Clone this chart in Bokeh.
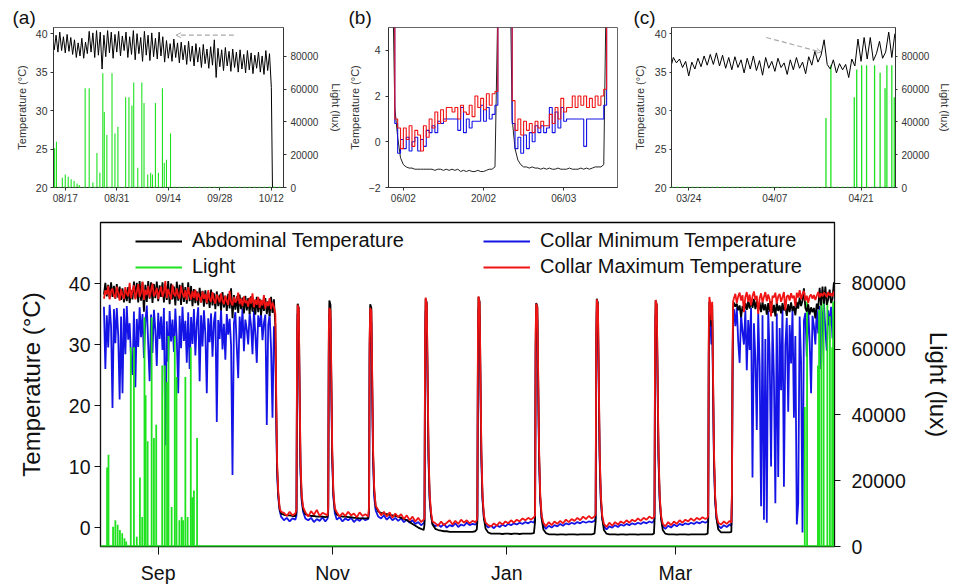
import numpy as np
import pandas as pd
from bokeh.plotting import figure
from bokeh.models import (Range1d, LinearAxis, FixedTicker, DatetimeTickFormatter,
                          Span, Arrow, OpenHead, Legend, LegendItem, Title)
from bokeh.layouts import column, row
from bokeh.embed import file_html
from bokeh.resources import INLINE

# ======================= DATA =======================
BASE_DATE = "2018-08-01"          # day 0 of all day counts below

# --- pre-hibernation, half-day samples starting at day 12.0 ---
PRE_START, PRE_STEP = 12.0, 0.5
ABD_PRE = [
    38.2, 40.1, 37.9, 39.8, 37.6, 40.2, 37.8, 39.6, 37.5, 39.9,
    37.7, 39.5, 37.3, 39.2, 36.9, 38.8, 37.1, 39.4, 36.8, 38.9,
    37.4, 40.3, 37.6, 40.1, 36.9, 40.4, 37.2, 40.2, 35.4, 39.8,
    37.0, 40.4, 37.5, 40.2, 36.8, 39.9, 37.6, 40.3, 37.1, 39.7,
    37.8, 40.2, 36.9, 39.6, 37.3, 40.4, 36.6, 40.0, 37.4, 39.5,
    36.4, 40.3, 37.2, 39.8, 36.5, 40.1, 37.0, 39.4, 36.7, 40.2,
    37.1, 39.6, 36.3, 39.1, 36.8, 38.7, 36.4, 39.3, 36.9, 38.8,
    36.2, 38.9, 36.6, 38.5, 36.0, 39.0, 36.4, 38.4, 35.8, 38.7,
    36.3, 38.2, 35.6, 38.6, 36.1, 38.0, 35.5, 38.3, 35.9, 39.2,
    34.3, 38.1, 35.7, 37.9, 35.2, 38.2, 35.8, 37.7, 35.1, 38.0,
    35.6, 37.6, 35.0, 37.9, 35.4, 37.3, 34.9, 37.8, 35.3, 37.5,
    34.8, 37.2, 35.5, 37.6, 35.0, 37.1, 34.7, 37.8, 35.2, 37.4]
CMAX_PRE = [
    37.5, 38.9, 38.2, 39.6, 37.4, 38.8, 39.2, 38.0, 37.6, 39.5,
    38.4, 37.2, 39.1, 38.0, 37.5, 39.4, 38.3, 37.9, 40.1, 37.6,
    38.8, 39.7, 37.4, 38.6, 39.9, 37.8, 38.5, 40.3, 37.3, 39.0,
    38.1, 39.6, 37.7, 38.9, 40.0, 37.9, 38.4, 39.3, 37.5, 38.7,
    39.5, 37.8, 38.6, 40.4, 37.6, 39.1, 38.2, 37.4, 39.8, 38.3,
    37.9, 39.2, 38.0, 37.5, 39.6, 38.4, 37.7, 38.9, 37.3, 39.4,
    38.1, 37.4, 38.8, 37.6, 39.0, 37.2, 38.5, 37.8, 36.9, 38.7,
    37.5, 38.3, 36.8, 38.9, 37.4, 37.0, 38.6, 37.3, 36.7, 38.2,
    37.6, 36.9, 38.4, 37.2, 36.6, 38.0, 37.1, 36.5, 38.8, 37.0,
    36.4, 37.8, 36.9, 37.3, 38.5, 36.6, 37.5, 36.3, 37.9, 36.8,
    37.2, 36.2, 37.7, 36.7, 38.4, 36.1, 37.4, 36.5, 37.8, 36.0,
    37.3, 36.4, 38.1, 35.9, 37.0, 36.3, 37.6, 35.8, 36.9, 36.2]
CMIN_PRE = [
    36.2, 26.0, 34.8, 29.5, 36.5, 33.0, 19.6, 35.8, 30.2, 36.0,
    31.5, 21.0, 34.6, 22.0, 35.9, 28.4, 36.3, 30.8, 33.5, 27.6,
    25.0, 35.4, 23.0, 34.2, 29.6, 36.1, 31.2, 35.0, 27.8, 33.7,
    36.4, 30.0, 24.0, 34.9, 28.6, 35.7, 32.4, 26.5, 35.2, 30.9,
    34.6, 29.1, 36.0, 13.5, 33.8, 27.2, 35.5, 30.5, 34.1, 28.8,
    35.9, 31.0, 22.0, 34.7, 29.4, 36.2, 30.6, 33.9, 27.0, 35.3,
    26.0, 34.5, 30.1, 35.8, 28.2, 33.6, 36.1, 24.0, 34.8, 29.7,
    35.6, 31.8, 22.0, 34.3, 30.4, 35.1, 28.0, 33.7, 35.4, 17.3,
    34.0, 30.9, 35.7, 29.2, 33.4, 27.5, 35.0, 31.6, 34.2, 29.9,
    8.6, 33.5, 35.3, 29.6, 24.5, 34.6, 31.0, 35.9, 28.9, 34.1,
    32.5, 30.0, 35.2, 33.1, 28.4, 35.6, 31.7, 27.0, 34.8, 32.9,
    35.1, 30.7, 33.6, 34.9, 16.8, 33.2, 35.0, 29.3, 18.0, 33.0]

# --- hibernation (torpor bouts and arousals), day / value ---
HIB_T = [
    72.0, 72.3, 72.6, 73.0, 73.5, 74.0, 75.0, 76.0, 77.0, 78.0,
    79.0, 79.4, 79.6, 79.8, 80.2, 80.5, 80.8, 81.2, 81.7, 82.5,
    83.5, 84.5, 85.5, 86.5, 87.5, 88.5, 89.5, 90.3, 90.5, 90.7,
    90.9, 91.3, 91.6, 91.9, 92.3, 92.8, 93.5, 94.5, 95.5, 96.5,
    97.5, 98.5, 99.5, 100.5, 101.5, 102.5, 103.5, 104.5, 104.8, 105.0,
    105.2, 105.6, 105.9, 106.2, 106.6, 107.1, 108.0, 109.0, 110.0, 111.0,
    112.0, 113.0, 114.0, 115.0, 116.0, 117.0, 118.0, 119.0, 120.0, 121.0,
    122.0, 123.0, 123.9, 124.2, 124.4, 124.6, 125.0, 125.3, 125.6, 126.0,
    126.5, 127.0, 128.0, 129.0, 130.0, 131.0, 132.0, 133.0, 134.0, 135.0,
    136.0, 137.0, 138.0, 139.0, 140.0, 141.0, 142.0, 142.5, 142.7, 142.9,
    143.1, 143.5, 143.8, 144.1, 144.5, 145.0, 145.6, 146.5, 147.5, 148.5,
    149.5, 150.5, 151.5, 152.5, 153.5, 154.5, 155.5, 156.5, 157.5, 158.5,
    159.5, 160.5, 161.5, 162.5, 162.9, 163.1, 163.3, 163.7, 164.0, 164.3,
    164.7, 165.2, 165.8, 166.7, 167.7, 168.7, 169.7, 170.7, 171.7, 172.7,
    173.7, 174.7, 175.7, 176.7, 177.7, 178.7, 179.7, 180.7, 181.7, 182.7,
    183.7, 184.1, 184.3, 184.5, 184.9, 185.2, 185.5, 185.9, 186.4, 187.0,
    187.9, 188.9, 189.9, 190.9, 191.9, 192.9, 193.9, 194.9, 195.9, 196.9,
    197.9, 198.9, 199.9, 200.9, 201.9, 202.9, 203.9, 204.5, 204.7, 204.9,
    205.1, 205.5, 205.8, 206.1, 206.5, 207.0, 207.6, 208.5, 209.5, 210.5,
    211.5, 212.5, 213.5, 214.5, 215.5, 216.5, 217.5, 218.5, 219.5, 220.5,
    221.5, 222.5, 223.3, 223.5, 223.7, 223.9, 224.3, 224.6, 224.9, 225.2,
    225.5, 225.9, 226.4, 227.0, 228.0, 229.0, 230.0, 231.0, 231.6, 231.8,
    232.0, 232.2]
HIB_ABD = [
    33.0, 20.0, 10.0, 5.5, 3.0, 2.3, 2.1, 2.0, 2.0, 1.9,
    1.9, 2.5, 30.0, 36.7, 36.0, 22.0, 10.0, 5.0, 3.0, 2.2,
    2.0, 1.9, 1.9, 1.8, 1.8, 1.8, 1.7, 1.8, 3.0, 30.0,
    37.2, 36.5, 24.0, 12.0, 5.5, 3.0, 2.1, 1.9, 1.8, 1.8,
    1.7, 1.7, 1.6, 1.6, 1.5, 1.5, 1.5, 1.5, 3.0, 30.0,
    36.6, 36.0, 24.0, 12.0, 6.0, 3.5, 2.6, 2.4, 2.3, 2.2,
    2.1, 2.0, 1.9, 1.8, 1.6, 1.4, 1.2, 0.9, 0.6, 0.3,
    0.0, -0.2, -0.4, 0.5, 30.0, 37.5, 36.8, 24.0, 12.0, 5.0,
    2.0, 0.5, -0.2, -0.4, -0.5, -0.6, -0.6, -0.7, -0.7, -0.7,
    -0.7, -0.7, -0.7, -0.7, -0.7, -0.7, -0.6, -0.3, 1.0, 30.0,
    37.8, 37.0, 24.0, 12.0, 5.0, 1.5, -0.2, -0.8, -1.0, -1.0,
    -1.0, -1.0, -1.05, -1.0, -1.0, -1.05, -1.0, -1.0, -1.05, -1.0,
    -1.0, -1.0, -1.0, -0.9, 1.0, 30.0, 36.8, 36.2, 24.0, 12.0,
    5.0, 1.5, -0.3, -0.9, -1.1, -1.1, -1.1, -1.15, -1.1, -1.1,
    -1.15, -1.1, -1.1, -1.1, -1.15, -1.1, -1.1, -1.1, -1.1, -1.1,
    -1.0, 1.0, 30.0, 37.5, 36.8, 24.0, 12.0, 5.0, 1.5, -0.4,
    -1.0, -1.1, -1.1, -1.1, -1.15, -1.1, -1.1, -1.15, -1.1, -1.1,
    -1.1, -1.15, -1.1, -1.1, -1.1, -1.1, -1.1, -1.0, 1.0, 30.0,
    37.2, 36.5, 24.0, 12.0, 5.0, 1.5, -0.4, -1.0, -1.1, -1.1,
    -1.1, -1.15, -1.1, -1.1, -1.1, -1.15, -1.1, -1.1, -1.1, -1.1,
    -1.1, -1.1, -1.0, 1.0, 30.0, 37.0, 36.0, 33.0, 36.5, 24.0,
    12.0, 5.0, 1.5, -0.3, -0.8, -0.8, -0.8, -0.8, -0.7, 5.0,
    25.0, 36.0]
HIB_CMIN = [
    30.0, 18.0, 9.0, 5.0, 2.8, 1.8, 1.2, 1.6, 1.0, 1.5,
    1.3, 2.0, 28.0, 35.0, 33.0, 20.0, 9.0, 4.5, 2.6, 1.5,
    1.2, 1.6, 0.9, 1.4, 1.1, 1.7, 1.0, 1.5, 2.5, 28.0,
    35.0, 34.0, 22.0, 11.0, 5.0, 2.4, 1.3, 1.7, 1.0, 1.5,
    1.2, 1.6, 0.9, 1.4, 1.1, 1.6, 1.2, 1.4, 2.5, 28.0,
    35.0, 33.5, 22.0, 11.0, 5.0, 2.8, 1.8, 1.5, 2.0, 1.3,
    1.8, 1.2, 1.6, 1.1, 1.5, 0.9, 1.3, 0.8, 1.2, 0.6,
    0.9, 0.4, 0.7, 1.0, 28.0, 35.5, 34.0, 22.0, 11.0, 4.5,
    2.0, 0.6, 0.2, 0.5, 0.1, 0.6, 0.0, 0.4, 0.2, 0.7,
    0.1, 0.5, 0.3, 0.8, 0.4, 0.6, 0.5, 0.7, 1.5, 28.0,
    36.0, 34.5, 22.0, 11.0, 4.5, 1.5, 0.5, 0.0, 0.3, -0.1,
    0.4, 0.1, 0.5, 0.2, 0.6, 0.4, 0.7, 0.5, 0.8, 0.6,
    0.9, 0.7, 1.0, 0.8, 1.5, 28.0, 35.0, 34.0, 22.0, 11.0,
    4.5, 1.5, 0.3, -0.2, 0.3, 0.0, 0.4, 0.2, 0.6, 0.3,
    0.7, 0.5, 0.8, 0.6, 0.9, 0.7, 1.0, 0.8, 1.0, 0.9,
    1.1, 1.5, 28.0, 35.5, 34.0, 22.0, 11.0, 4.5, 1.5, 0.2,
    -0.3, 0.2, 0.0, 0.4, 0.1, 0.5, 0.3, 0.6, 0.4, 0.7,
    0.5, 0.8, 0.6, 0.9, 0.7, 1.0, 0.8, 1.1, 1.5, 28.0,
    35.0, 34.0, 22.0, 11.0, 4.5, 1.5, 0.2, -0.2, 0.3, 0.0,
    0.5, 0.2, 0.6, 0.4, 0.7, 0.5, 0.8, 0.6, 0.9, 0.7,
    1.0, 0.8, 1.0, 1.5, 28.0, 35.0, 33.0, 30.0, 34.0, 22.0,
    11.0, 4.5, 1.5, 0.3, -0.1, 0.4, 0.1, 0.5, 0.3, 5.0,
    24.0, 34.0]
HIB_CMAX = [
    35.0, 22.0, 11.0, 6.0, 3.2, 2.6, 2.4, 1.9, 2.6, 2.0,
    2.3, 3.0, 31.0, 36.5, 35.8, 23.0, 11.0, 5.5, 3.4, 2.5,
    1.8, 2.7, 2.1, 2.9, 1.9, 2.4, 2.2, 2.0, 3.5, 32.0,
    36.0, 35.5, 25.0, 13.0, 6.0, 3.2, 2.5, 1.8, 2.4, 1.9,
    2.6, 2.0, 2.3, 1.7, 2.5, 1.9, 2.2, 1.8, 3.5, 31.0,
    36.0, 35.5, 25.0, 13.0, 6.5, 3.6, 2.9, 2.0, 2.6, 1.8,
    2.5, 1.6, 2.3, 1.7, 2.2, 1.4, 2.0, 1.2, 1.8, 1.0,
    1.6, 0.9, 1.3, 1.5, 31.0, 37.7, 36.5, 25.0, 13.0, 5.5,
    2.5, 1.0, 0.7, 0.3, 1.0, 0.4, 0.8, 1.2, 0.5, 1.1,
    0.6, 1.3, 0.8, 1.2, 0.7, 1.1, 0.9, 1.2, 2.0, 32.0,
    37.9, 36.8, 25.0, 13.0, 5.5, 2.0, 0.8, 0.4, 0.2, 0.7,
    0.3, 0.9, 0.5, 1.0, 0.7, 1.2, 0.8, 1.3, 1.0, 1.5,
    1.2, 1.6, 1.3, 1.7, 2.0, 32.0, 36.7, 36.0, 25.0, 13.0,
    5.5, 2.0, 0.8, 0.2, 0.9, 0.4, 1.0, 0.6, 1.1, 0.7,
    1.3, 0.9, 1.4, 1.1, 1.6, 1.2, 1.8, 1.4, 1.9, 1.5,
    1.8, 2.2, 32.0, 37.4, 36.5, 25.0, 13.0, 5.5, 2.0, 0.6,
    0.1, 0.8, 0.3, 0.9, 0.5, 1.0, 0.7, 1.2, 0.8, 1.3,
    1.0, 1.5, 1.1, 1.6, 1.3, 1.8, 1.5, 1.7, 2.2, 32.0,
    37.3, 36.4, 25.0, 13.0, 5.5, 2.0, 0.6, 0.2, 0.9, 0.4,
    1.0, 0.6, 1.2, 0.8, 1.3, 1.0, 1.5, 1.1, 1.6, 1.3,
    1.7, 1.4, 1.6, 2.2, 32.0, 37.8, 36.5, 34.0, 37.0, 25.0,
    13.0, 5.5, 2.0, 0.8, 0.5, 1.0, 0.6, 1.1, 0.8, 6.0,
    27.0, 37.0]

# --- post-hibernation, half-day samples starting at day 232.5 ---
POST_START, POST_STEP = 232.5, 0.5
ABD_POST = [
    36.9, 36.2, 36.7, 35.6, 36.4, 34.5, 36.3, 35.4,
    36.8, 35.7, 37.1, 35.9, 37.3, 36.0, 37.5, 35.8,
    37.2, 35.5, 36.9, 35.3, 37.0, 35.6, 36.6, 34.9,
    36.8, 35.4, 37.1, 35.2, 36.5, 34.6, 36.9, 35.5,
    36.4, 35.1, 36.8, 35.6, 36.2, 34.7, 36.6, 35.3,
    36.9, 35.5, 36.3, 34.8, 37.0, 35.9, 37.7, 36.3,
    37.2, 39.2, 36.0, 35.4, 36.6, 34.9, 36.1, 35.3,
    36.0, 34.3, 36.7, 35.8, 39.3, 36.4, 39.5, 36.7,
    39.5, 36.5, 37.4, 39.0, 36.8, 37.6, 40.2, 36.9, 40.0]
CMIN_POST = [
    35.8, 33.0, 36.1, 30.5, 27.0, 34.9, 32.2, 30.0,
    35.6, 25.8, 34.0, 29.1, 36.0, 8.2, 33.5, 27.7,
    16.0, 35.2, 26.4, 3.5, 34.8, 1.3, 30.9, 0.8,
    35.5, 28.3, 10.0, 33.8, 24.6, 4.0, 35.1, 8.3,
    32.7, 22.5, 36.0, 6.7, 29.8, 34.4, 19.0, 33.2,
    26.9, 35.7, 18.0, 31.4, 0.5, 4.0, 34.6, 27.3,
    -0.8, 33.9, 35.2, 28.0, 36.1, 30.6, 22.0, 34.7,
    33.0, 30.0, 35.9, 31.8, 36.3, 26.0, 34.5, 36.8,
    32.4, 29.0, 35.6, 33.1, 36.2, 31.0, 35.8, 34.0, 36.5]
CMAX_POST = [
    37.6, 38.3, 36.8, 37.9, 38.5, 37.2, 38.1, 35.3,
    37.8, 38.6, 37.0, 38.2, 36.4, 37.9, 38.7, 37.3,
    38.0, 35.0, 37.6, 38.4, 36.9, 37.8, 38.6, 37.1,
    38.2, 37.4, 34.6, 38.0, 37.7, 38.5, 36.7, 37.9,
    38.3, 37.0, 37.8, 38.6, 35.6, 37.9, 38.1, 37.2,
    38.4, 37.6, 38.0, 36.3, 38.5, 37.7, 38.9, 37.4,
    38.3, 38.8, 37.2, 38.0, 36.8, 37.9, 38.2, 37.5,
    38.1, 37.3, 38.0, 38.6, 37.7, 38.4, 37.9, 38.5,
    38.2, 37.8, 38.6, 38.0, 38.4, 37.9, 38.7, 38.3, 38.8]

# --- light logger peaks (day, lux) ---
LIGHT_T = [13.1, 13.6, 15.2, 16.0, 16.8, 17.6, 18.4, 19.2, 19.8,
           21.4, 22.5, 23.5, 24.6, 25.4, 26.2, 26.6, 27.3, 28.7, 29.5, 30.3,
           32.4, 33.3, 34.1, 34.6, 35.7, 36.8, 37.4, 38.4, 39.2, 39.7,
           40.5, 41.3, 42.4, 42.9, 43.5, 44.6,
           257.3, 258.1, 261.9, 262.3, 263.1, 263.9, 265.2, 266.1, 266.9, 267.2, 268.0, 268.4]
LIGHT_LUX = [24000, 27900, 6000, 8000, 6600, 5000, 4000, 2500, 1500,
             60600, 60600, 3000, 21000, 9000, 69700, 46000, 32000, 69700, 33000, 37000,
             55000, 55000, 50000, 64000, 12000, 64000, 51500, 8000, 9000, 8000,
             51500, 9000, 60600, 15000, 17000, 33000,
             42400, 74500, 55000, 72000, 74500, 74500, 74500, 70000, 60600, 74500, 74500, 55000]

# --- inset (b): detailed February/March torpor, half-day samples from day 187.0 ---
B_START, B_STEP = 187.0, 0.5
B_ABD = [
    9.0, 1.5, 0.2, -0.7, -1.0, -1.1, -1.15, -1.15, -1.2, -1.2,
    -1.2, -1.2, -1.2, -1.2, -1.2, -1.25, -1.2, -1.2, -1.25, -1.2,
    -1.25, -1.2, -1.25, -1.2, -1.3, -1.25, -1.3, -1.25, -1.3, -1.3,
    -1.25, -1.3, -1.3, -1.25, -1.2, -1.2, -1.1, 6.0, 30.0, 36.0,
    33.0, 10.0, 1.0, -0.3, -0.8, -1.0, -1.1, -1.1, -1.15, -1.1,
    -1.15, -1.15, -1.2, -1.15, -1.2, -1.15, -1.2, -1.2, -1.15, -1.2,
    -1.2, -1.2, -1.15, -1.2, -1.2, -1.2, -1.15, -1.2, -1.15, -1.2,
    -1.15, -1.1, -1.1, -1.1, -1.0, 8.0, 30.0, 36.0, 36.0]
B_CMAX = [
    9.0, 1.0, 0.6, -0.3, 0.6, 0.1, 0.7, -0.2, 0.5, 0.3,
    -0.4, 0.7, 0.2, 1.0, 0.6, 1.3, 0.8, 1.4, 0.9, 1.5,
    1.5, 1.3, 1.5, 1.0, 1.6, 1.3, 1.2, 1.6, 1.1, 2.0,
    1.5, 1.9, 1.4, 2.1, 1.6, 2.1, 2.2, 8.0, 31.0, 36.0,
    33.0, 11.0, 1.8, 0.5, 1.0, 0.3, 0.9, 0.5, 0.8, 0.4,
    0.9, 0.6, 0.9, 0.7, 0.7, 1.2, 0.8, 1.5, 1.0, 1.9,
    1.3, 1.5, 1.5, 2.0, 1.5, 2.0, 1.6, 2.0, 1.5, 1.9,
    1.5, 2.0, 1.6, 2.0, 2.3, 9.0, 31.0, 36.0, 36.0]
B_CMIN = [
    9.0, 0.8, -0.5, 0.1, -0.3, 0.2, -0.4, 0.0, 0.2, -0.4,
    0.1, -0.2, 0.5, 0.4, 0.7, 0.4, 0.9, 0.8, 1.0, 1.0,
    1.0, 1.0, 1.0, 0.5, 1.5, 0.4, 1.0, 0.6, 0.9, 0.9,
    0.9, 1.6, 0.9, 1.5, 1.0, 1.2, 1.6, 7.0, 30.0, 35.5,
    32.0, 9.0, 0.8, -0.3, 0.2, -0.5, 0.3, -0.3, 0.4, 0.0,
    0.7, 0.4, 0.7, 0.4, 0.6, 1.5, 0.4, 1.3, 0.6, 1.5,
    0.9, 1.0, 1.0, 1.0, 1.0, 1.0, 1.0, -0.2, 1.0, 1.0,
    1.0, 1.0, 1.0, 1.0, 1.6, 7.5, 30.0, 35.5, 35.5]

# --- axes, ticks, annotations ---
MAIN_TICKS = ["2018-09-01", "2018-11-01", "2019-01-01", "2019-03-01"]
A_TICKS = ["2018-08-17", "2018-08-31", "2018-09-14", "2018-09-28", "2018-10-12"]
B_TICKS = ["2019-02-06", "2019-02-20", "2019-03-06"]
C_TICKS = ["2019-03-24", "2019-04-07", "2019-04-21"]
MAIN_TEMP_TICKS = [0, 10, 20, 30, 40]
INSET_TEMP_TICKS = [20, 25, 30, 35, 40]
B_TEMP_TICKS = [-2, 0, 2, 4]
LIGHT_TICKS = [0, 20000, 40000, 60000, 80000]

MAIN_XR, MAIN_YR, MAIN_LR = (10.8, 267.7), (-3.1, 50.0), (0, 98500)
A_XR, C_XR, INSET_YR, INSET_LR = (12.8, 75.3), (232.2, 268.6), (20.0, 40.8), (0, 97600)
B_XR, B_YR = (186.4, 226.4), (-2.0, 5.0)

ARROW_A_DAYS, ARROW_A_TEMP = [61.8, 46.1], [39.8, 39.8]
ARROW_C_DAYS, ARROW_C_TEMP = [247.6, 256.5], [39.5, 37.6]

# ======================= HELPERS =======================
BASE_MS = pd.Timestamp(BASE_DATE).value / 1e6
DAY_MS = 86400000.0


def ms(days):
    return BASE_MS + np.asarray(days, dtype=float) * DAY_MS


def tick_ms(dates):
    return [pd.Timestamp(d).value / 1e6 for d in dates]


def dt_fmt(f):
    return DatetimeTickFormatter(microseconds=f, milliseconds=f, seconds=f, minsec=f,
                                 minutes=f, hourmin=f, hours=f, days=f, months=f, years=f)


FONT = "Liberation Sans"
BLACK, BLUE, RED, GREEN = "#000000", "#1414e6", "#f01414", "#1ee21e"

PRE_T = PRE_START + PRE_STEP * np.arange(len(ABD_PRE))
POST_T = POST_START + POST_STEP * np.arange(len(ABD_POST))
B_T = B_START + B_STEP * np.arange(len(B_ABD))
T_ALL = ms(np.concatenate([PRE_T, HIB_T, POST_T]))
ABD_ALL = np.concatenate([ABD_PRE, HIB_ABD, ABD_POST])
CMIN_ALL = np.concatenate([CMIN_PRE, HIB_CMIN, CMIN_POST])
CMAX_ALL = np.concatenate([CMAX_PRE, HIB_CMAX, CMAX_POST])
LT = ms(LIGHT_T)
LZ = np.zeros(len(LIGHT_LUX))


def style_axis(ax, tick_size, label_size, color, tick_out, standoff, label_standoff):
    ax.major_label_text_font = FONT
    ax.axis_label_text_font = FONT
    ax.major_label_text_font_size = tick_size
    ax.axis_label_text_font_size = label_size
    ax.axis_label_text_font_style = "normal"
    ax.major_label_text_color = color
    ax.axis_label_text_color = color
    ax.axis_line_color = color
    ax.major_tick_line_color = color
    ax.minor_tick_line_color = None
    ax.major_tick_out = tick_out
    ax.major_tick_in = 0
    ax.major_label_standoff = standoff
    ax.axis_label_standoff = label_standoff


def base_fig(width, height, xr, yr, bl, br, bt, bb):
    p = figure(width=width, height=height, x_axis_type="datetime",
               x_range=Range1d(ms(xr[0]), ms(xr[1])), y_range=Range1d(*yr),
               output_backend="svg", toolbar_location=None,
               min_border_left=bl, min_border_right=br,
               min_border_top=bt, min_border_bottom=bb)
    p.grid.visible = False
    p.background_fill_color = "white"
    p.border_fill_color = "white"
    return p


def panel_title(p, text, dx):
    p.title = Title(text=text, align="left", offset=dx, standoff=0,
                    text_font=FONT, text_font_size="19px", text_font_style="normal",
                    text_color="#111111")


INSET_C = "#333333"

# ======================= INSET (a) =======================
pa = base_fig(345, 206, A_XR, INSET_YR, 53, 60, 27, 18)
pa.outline_line_color = "#666"
pa.extra_y_ranges = {"light": Range1d(*INSET_LR)}
pa.segment(x0=LT, y0=LZ, x1=LT, y1=LIGHT_LUX, y_range_name="light", line_color=GREEN, line_width=1.1)
pa.add_layout(Span(location=0, dimension="width", y_range_name="light",
                   line_color=GREEN, line_width=1.5, line_dash="2 3"))
pa.line(T_ALL, ABD_ALL, line_color=BLACK, line_width=1.0)
pa.xaxis.ticker = FixedTicker(ticks=tick_ms(A_TICKS))
pa.xaxis.formatter = dt_fmt("%m/%d")
pa.yaxis.ticker = FixedTicker(ticks=INSET_TEMP_TICKS)
pa.yaxis.axis_label = "Temperature (°C)"
ra = LinearAxis(y_range_name="light", ticker=FixedTicker(ticks=LIGHT_TICKS), axis_label="Light (lux)")
pa.add_layout(ra, "right")
style_axis(pa.xaxis[0], "10px", "11px", INSET_C, 3, 2, 3)
style_axis(pa.yaxis[0], "10.5px", "11px", INSET_C, 3, 3, 5)
style_axis(ra, "10px", "11px", INSET_C, 3, 4, 9)
pa.add_layout(Arrow(x_start=float(ms(ARROW_A_DAYS[0])), y_start=ARROW_A_TEMP[0],
                    x_end=float(ms(ARROW_A_DAYS[1])), y_end=ARROW_A_TEMP[1],
                    line_color="#aaaaaa", line_width=1.2, line_dash="5 3",
                    end=OpenHead(size=5, line_color="#aaaaaa", line_width=1)))
panel_title(pa, "(a)", -41)

# ======================= INSET (b) =======================
pb = base_fig(285, 206, B_XR, B_YR, 42, 13, 27, 18)
pb.outline_line_color = "#666"
bt = ms(B_T)
pb.line(bt, B_ABD, line_color="#222222", line_width=1.0)
pb.step(bt, B_CMIN, mode="after", line_color=BLUE, line_width=1.1)
pb.step(bt, B_CMAX, mode="after", line_color=RED, line_width=1.1)
pb.xaxis.ticker = FixedTicker(ticks=tick_ms(B_TICKS))
pb.xaxis.formatter = dt_fmt("%d/%m")
pb.yaxis.ticker = FixedTicker(ticks=B_TEMP_TICKS)
pb.yaxis.axis_label = "Temperature (°C)"
style_axis(pb.xaxis[0], "10px", "11px", INSET_C, 3, 2, 3)
style_axis(pb.yaxis[0], "10.5px", "11px", INSET_C, 3, 5, 5)
panel_title(pb, "(b)", -40)

# ======================= INSET (c) =======================
pc = base_fig(324, 206, C_XR, INSET_YR, 40, 52, 27, 18)
pc.outline_line_color = "#666"
pc.extra_y_ranges = {"light": Range1d(*INSET_LR)}
pc.segment(x0=LT, y0=LZ, x1=LT, y1=LIGHT_LUX, y_range_name="light", line_color=GREEN, line_width=1.3)
pc.add_layout(Span(location=0, dimension="width", y_range_name="light",
                   line_color=GREEN, line_width=1.5, line_dash="2 3"))
pc.line(T_ALL, ABD_ALL, line_color=BLACK, line_width=1.0)
pc.xaxis.ticker = FixedTicker(ticks=tick_ms(C_TICKS))
pc.xaxis.formatter = dt_fmt("%m/%d")
pc.yaxis.ticker = FixedTicker(ticks=INSET_TEMP_TICKS)
pc.yaxis.axis_label = "Temperature (°C)"
rc = LinearAxis(y_range_name="light", ticker=FixedTicker(ticks=LIGHT_TICKS), axis_label="Light (lux)")
pc.add_layout(rc, "right")
style_axis(pc.xaxis[0], "10px", "11px", INSET_C, 3, 2, 3)
style_axis(pc.yaxis[0], "10.5px", "11px", INSET_C, 2, 3, 6)
style_axis(rc, "10px", "11px", INSET_C, 2, 4, 7)
pc.add_layout(Arrow(x_start=float(ms(ARROW_C_DAYS[0])), y_start=ARROW_C_TEMP[0],
                    x_end=float(ms(ARROW_C_DAYS[1])), y_end=ARROW_C_TEMP[1],
                    line_color="#aaaaaa", line_width=1.2, line_dash="5 3",
                    end=OpenHead(size=5, line_color="#aaaaaa", line_width=1)))
panel_title(pc, "(c)", -38)

# ======================= MAIN =======================
pm = base_fig(954, 380, MAIN_XR, MAIN_YR, 100, 118, 16, 39)
pm.outline_line_color = "black"
pm.outline_line_width = 1.3
pm.extra_y_ranges = {"light": Range1d(*MAIN_LR)}
r_min = pm.line(T_ALL, CMIN_ALL, line_color=BLUE, line_width=1.8)
r_light = pm.segment(x0=LT, y0=LZ, x1=LT, y1=LIGHT_LUX, y_range_name="light",
                     line_color=GREEN, line_width=1.8)
pm.add_layout(Span(location=0, dimension="width", y_range_name="light",
                   line_color=GREEN, line_width=2.5))
r_abd = pm.line(T_ALL, ABD_ALL, line_color=BLACK, line_width=1.8)
r_max = pm.line(T_ALL, CMAX_ALL, line_color=RED, line_width=1.8)

pm.xaxis.ticker = FixedTicker(ticks=tick_ms(MAIN_TICKS))
pm.xaxis.formatter = dt_fmt("%b")
pm.yaxis.ticker = FixedTicker(ticks=MAIN_TEMP_TICKS)
pm.yaxis.axis_label = "Temperature (°C)"
rm = LinearAxis(y_range_name="light", ticker=FixedTicker(ticks=LIGHT_TICKS), axis_label="Light (lux)")
pm.add_layout(rm, "right")
style_axis(pm.xaxis[0], "19.5px", "24px", "#111111", 8, 7, 5)
style_axis(pm.yaxis[0], "19.5px", "24px", "#111111", 6, 4, 21)
style_axis(rm, "19.5px", "24px", "#111111", 6, 11, 16)

leg1 = Legend(items=[LegendItem(label="Abdominal Temperature", renderers=[r_abd]),
                     LegendItem(label="Light", renderers=[r_light])], location=(35, 268))
leg2 = Legend(items=[LegendItem(label="Collar Minimum Temperature", renderers=[r_min]),
                     LegendItem(label="Collar Maximum Temperature", renderers=[r_max])], location=(383, 268))
for lg in (leg1, leg2):
    lg.border_line_color = None
    lg.background_fill_alpha = 0
    lg.padding = 0
    lg.margin = 0
    lg.spacing = 3
    lg.glyph_width = 47
    lg.glyph_height = 20
    lg.label_standoff = 10
    lg.label_height = 20
    lg.label_text_font = FONT
    lg.label_text_font_size = "20px"
    lg.label_text_color = "#111111"
    pm.add_layout(lg)

layout = column(row(pa, pb, pc), pm)
open("out.html", "w").write(file_html(layout, INLINE))
